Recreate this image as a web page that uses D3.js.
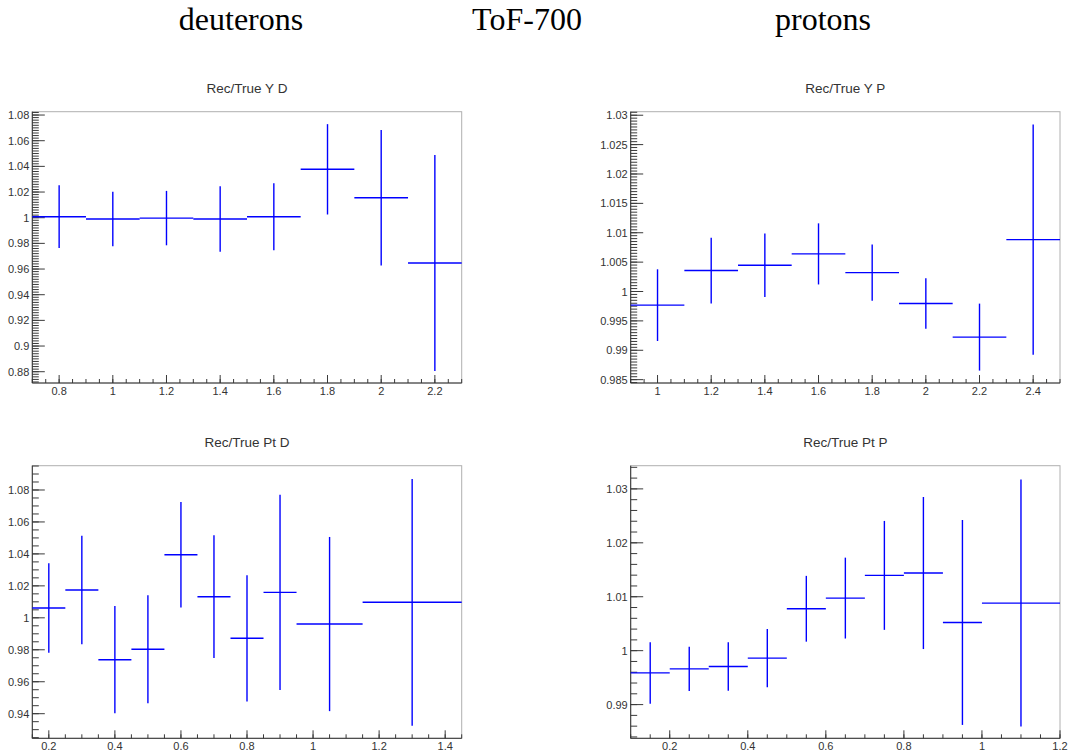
<!DOCTYPE html>
<html>
<head>
<meta charset="utf-8">
<script src="https://cdn.jsdelivr.net/npm/d3@7"></script>
<style>
  html, body { margin: 0; padding: 0; background: #fff; }
  svg { display: block; }
</style>
</head>
<body>
<svg id="chart" width="1070" height="755"></svg>
<script>
// ---------- data ----------
const headerLabels = ["deuterons", "ToF-700", "protons"];
const panelTitles = ["Rec/True Y D", "Rec/True Y P", "Rec/True Pt D", "Rec/True Pt P"];

// Rec/True Y D
const yD_edges = [0.7, 0.9, 1.1, 1.3, 1.5, 1.7, 1.9, 2.1, 2.3];
const yD_val   = [1.0008, 0.9990, 0.9997, 0.9990, 1.0008, 1.0377, 1.0156, 0.9647];
const yD_err   = [0.0245, 0.0213, 0.0212, 0.0255, 0.0261, 0.0352, 0.0528, 0.0842];
const yD_range = [0.8712, 1.0826];

// Rec/True Y P
const yP_edges = [0.9, 1.1, 1.3, 1.5, 1.7, 1.9, 2.1, 2.3, 2.5];
const yP_val   = [0.99768, 1.00357, 1.00447, 1.00640, 1.00322, 0.99796, 0.99224, 1.00883];
const yP_err   = [0.0061, 0.0056, 0.0054, 0.0052, 0.0048, 0.0043, 0.0057, 0.0196];
const yP_range = [0.98443, 1.0306];

// Rec/True Pt D
const ptD_edges = [0.15, 0.25, 0.35, 0.45, 0.55, 0.65, 0.75, 0.85, 0.95, 1.15, 1.45];
const ptD_val   = [1.0061, 1.0174, 0.9738, 0.9803, 1.0395, 1.0132, 0.9872, 1.0159, 0.9961, 1.0097];
const ptD_err   = [0.0280, 0.0339, 0.0336, 0.0338, 0.0330, 0.0384, 0.0395, 0.0611, 0.0545, 0.0772];
const ptD_range = [0.9246, 1.0952];

// Rec/True Pt P
const ptP_edges = [0.1, 0.2, 0.3, 0.4, 0.5, 0.6, 0.7, 0.8, 0.9, 1.0, 1.2];
const ptP_val   = [0.99588, 0.99663, 0.99706, 0.99861, 1.00777, 1.00975, 1.01396, 1.01440, 1.00523, 1.00882];
const ptP_err   = [0.0057, 0.0041, 0.0045, 0.0054, 0.0061, 0.0075, 0.0101, 0.0141, 0.0190, 0.0229];
const ptP_range = [0.98375, 1.0343];

// tick steps: [major, minor]
const yD_yticks = [0.02, 0.002];
const yP_yticks = [0.005, 0.0005];
const ptD_yticks = [0.02, 0.005];
const ptP_yticks = [0.01, 0.002];
const xticksAll = [0.2, 0.05];

// ---------- drawing ----------
const svg = d3.select("#chart");

const headerX = [241, 527, 823];
svg.selectAll("text.header").data(headerLabels).enter().append("text")
  .attr("class", "header")
  .attr("x", (d, i) => headerX[i]).attr("y", 30)
  .attr("text-anchor", "middle")
  .attr("font-family", "'Liberation Serif', 'Times New Roman', serif")
  .attr("font-size", 32).attr("fill", "#000")
  .text(d => d);

function ticksBetween(lo, hi, step) {
  const out = [];
  const s = Math.ceil(lo / step - 1e-9), e = Math.floor(hi / step + 1e-9);
  for (let k = s; k <= e; k++) out.push(+(k * step).toFixed(6));
  return out;
}
const fmt = v => String(+v.toFixed(6));

function panel(cfg) {
  const {left, right, top, bottom, title, edges, val, err, yrange, yt, xt} = cfg;
  const x = d3.scaleLinear().domain([edges[0], edges[edges.length - 1]]).range([left, right]);
  const y = d3.scaleLinear().domain(yrange).range([bottom, top]);
  const g = svg.append("g");

  // frame
  g.append("rect").attr("x", left).attr("y", top)
    .attr("width", right - left).attr("height", bottom - top)
    .attr("fill", "none").attr("stroke", "#b0b0b0").attr("stroke-width", 1);

  // title
  g.append("text").attr("x", (left + right) / 2).attr("y", top - 19)
    .attr("text-anchor", "middle")
    .attr("font-family", "'Liberation Sans', Arial, sans-serif")
    .attr("font-size", 13.5).attr("fill", "#333").text(title);

  const tickCol = "#3a3a3a";
  // y axis
  const yMaj = ticksBetween(yrange[0], yrange[1], yt[0]);
  const yMin = ticksBetween(yrange[0], yrange[1], yt[1]);
  g.selectAll(null).data(yMin).enter().append("line")
    .attr("x1", left).attr("x2", left + 6.5)
    .attr("y1", d => y(d)).attr("y2", d => y(d))
    .attr("stroke", tickCol).attr("stroke-width", 1);
  g.selectAll(null).data(yMaj).enter().append("line")
    .attr("x1", left).attr("x2", left + 12.5)
    .attr("y1", d => y(d)).attr("y2", d => y(d))
    .attr("stroke", tickCol).attr("stroke-width", 1);
  g.selectAll(null).data(yMaj).enter().append("text")
    .attr("x", left - 3).attr("y", d => y(d) + 4)
    .attr("text-anchor", "end")
    .attr("font-family", "'Liberation Sans', Arial, sans-serif")
    .attr("font-size", 11).attr("fill", "#333")
    .text(fmt);

  // x axis
  const xd = x.domain();
  const xMaj = ticksBetween(xd[0], xd[1], xt[0]);
  const xMin = ticksBetween(xd[0], xd[1], xt[1]);
  g.selectAll(null).data(xMin).enter().append("line")
    .attr("x1", d => x(d)).attr("x2", d => x(d))
    .attr("y1", bottom).attr("y2", bottom - 4)
    .attr("stroke", tickCol).attr("stroke-width", 1);
  g.selectAll(null).data(xMaj).enter().append("line")
    .attr("x1", d => x(d)).attr("x2", d => x(d))
    .attr("y1", bottom).attr("y2", bottom - 8)
    .attr("stroke", tickCol).attr("stroke-width", 1);
  g.selectAll(null).data(xMaj).enter().append("text")
    .attr("x", d => x(d)).attr("y", bottom + 12)
    .attr("text-anchor", "middle")
    .attr("font-family", "'Liberation Sans', Arial, sans-serif")
    .attr("font-size", 11).attr("fill", "#333")
    .text(fmt);

  // axis lines
  g.append("line").attr("x1", left).attr("x2", left).attr("y1", top).attr("y2", bottom)
    .attr("stroke", "#333").attr("stroke-width", 1);
  g.append("line").attr("x1", left).attr("x2", right).attr("y1", bottom).attr("y2", bottom)
    .attr("stroke", "#333").attr("stroke-width", 1);

  // error bars
  const bins = val.map((v, i) => ({lo: edges[i], hi: edges[i + 1], v, e: err[i]}));
  const bg = g.append("g").attr("stroke", "#0000ff").attr("stroke-width", 1.4);
  bg.selectAll(null).data(bins).enter().append("line")
    .attr("x1", d => x(d.lo)).attr("x2", d => x(d.hi))
    .attr("y1", d => y(d.v)).attr("y2", d => y(d.v));
  bg.selectAll(null).data(bins).enter().append("line")
    .attr("x1", d => x((d.lo + d.hi) / 2)).attr("x2", d => x((d.lo + d.hi) / 2))
    .attr("y1", d => y(Math.max(d.v - d.e, yrange[0]))).attr("y2", d => y(Math.min(d.v + d.e, yrange[1])));
}

const L = [32.3, 461.7], R = [630.7, 1060];
const T = [111.7, 383], B = [465.7, 738.3];

panel({left: L[0], right: L[1], top: T[0], bottom: T[1], title: panelTitles[0],
  edges: yD_edges, val: yD_val, err: yD_err, yrange: yD_range, yt: yD_yticks, xt: xticksAll});
panel({left: R[0], right: R[1], top: T[0], bottom: T[1], title: panelTitles[1],
  edges: yP_edges, val: yP_val, err: yP_err, yrange: yP_range, yt: yP_yticks, xt: xticksAll});
panel({left: L[0], right: L[1], top: B[0], bottom: B[1], title: panelTitles[2],
  edges: ptD_edges, val: ptD_val, err: ptD_err, yrange: ptD_range, yt: ptD_yticks, xt: xticksAll});
panel({left: R[0], right: R[1], top: B[0], bottom: B[1], title: panelTitles[3],
  edges: ptP_edges, val: ptP_val, err: ptP_err, yrange: ptP_range, yt: ptP_yticks, xt: xticksAll});
</script>
</body>
</html>
